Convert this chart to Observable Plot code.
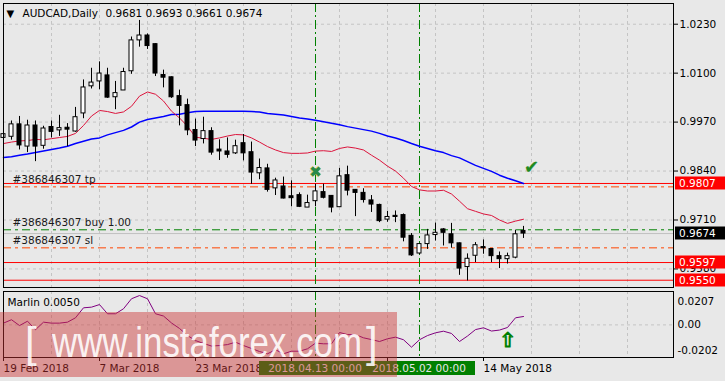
<!DOCTYPE html>
<html><head><meta charset="utf-8">
<script src="https://cdn.jsdelivr.net/npm/d3@7"></script>
<script src="https://cdn.jsdelivr.net/npm/@observablehq/plot@0.6"></script>
<style>
html,body{margin:0;padding:0;background:#e8e8e8;}
#wrap{position:relative;width:725px;height:381px;overflow:hidden;background:#e8e8e8;font-family:"DejaVu Sans",sans-serif;}
#main,#sub{position:absolute;left:0;}
#main{top:0;}
#sub{top:288px;}
#wm{position:absolute;left:0;top:312px;width:397px;height:65px;background:rgba(205,50,50,0.45);}
#wm svg{position:absolute;left:0;top:0;}
</style></head>
<body><div id="wrap"><div id="main"></div><div id="sub"></div><div id="wm"></div></div>
<script>
// ---------- data ----------
const dates = ["2018-02-19","2018-02-20","2018-02-21","2018-02-22","2018-02-23","2018-02-26","2018-02-27","2018-02-28",
"2018-03-01","2018-03-02","2018-03-05","2018-03-06","2018-03-07","2018-03-08","2018-03-09","2018-03-12","2018-03-13","2018-03-14","2018-03-15","2018-03-16","2018-03-19","2018-03-20","2018-03-21","2018-03-22","2018-03-23","2018-03-26","2018-03-27","2018-03-28","2018-03-29","2018-03-30",
"2018-04-02","2018-04-03","2018-04-04","2018-04-05","2018-04-06","2018-04-09","2018-04-10","2018-04-11","2018-04-12","2018-04-13","2018-04-16","2018-04-17","2018-04-18","2018-04-19","2018-04-20","2018-04-23","2018-04-24","2018-04-25","2018-04-26","2018-04-27","2018-04-30",
"2018-05-01","2018-05-02","2018-05-03","2018-05-04","2018-05-07","2018-05-08","2018-05-09","2018-05-10","2018-05-11","2018-05-14","2018-05-15","2018-05-16","2018-05-17","2018-05-18","2018-05-21"];
const open  = [0.9928,0.9931,0.9964,0.9905,0.9961,0.9907,0.9957,0.9948,0.9955,0.9945,0.9993,1.0065,1.0078,1.0094,1.0036,1.0054,1.0105,1.0187,1.0200,1.0177,1.0095,1.0089,1.0039,1.0015,0.9949,0.9925,0.9946,0.9897,0.9892,0.9887,0.9914,0.9890,0.9834,0.9847,0.9794,0.9799,0.9773,0.9776,0.9743,0.9760,0.9784,0.9774,0.9744,0.9829,0.9790,0.9782,0.9762,0.9750,0.9711,0.9721,0.9723,0.9668,0.9621,0.9646,0.9670,0.9685,0.9672,0.9648,0.9585,0.9615,0.9638,0.9633,0.9614,0.9606,0.9610,0.9681];
const high  = [0.9951,0.9973,0.9985,0.9975,0.9973,0.9959,0.9973,0.9988,0.9966,1.0009,1.0082,1.0113,1.0130,1.0113,1.0078,1.0113,1.0196,1.0240,1.0204,1.0178,1.0108,1.0090,1.0055,1.0031,0.9978,0.9983,0.9955,0.9923,0.9928,0.9922,0.9937,0.9917,0.9872,0.9858,0.9821,0.9824,0.9814,0.9782,0.9776,0.9805,0.9805,0.9775,0.9847,0.9853,0.9791,0.9793,0.9775,0.9752,0.9733,0.9734,0.9726,0.9674,0.9648,0.9685,0.9702,0.9687,0.9701,0.9649,0.9620,0.9650,0.9657,0.9634,0.9625,0.9622,0.9683,0.9693];
const low   = [0.9920,0.9922,0.9896,0.9889,0.9865,0.9898,0.9928,0.9932,0.9905,0.9943,0.9979,1.0058,1.0056,1.0033,1.0003,1.0054,1.0097,1.0169,1.0163,1.0091,1.0061,1.0033,0.9960,0.9934,0.9905,0.9912,0.9882,0.9868,0.9874,0.9884,0.9867,0.9805,0.9817,0.9784,0.9775,0.9766,0.9745,0.9743,0.9743,0.9745,0.9766,0.9729,0.9744,0.9774,0.9719,0.9755,0.9730,0.9703,0.9704,0.9703,0.9652,0.9613,0.9618,0.9632,0.9654,0.9641,0.9635,0.9563,0.9548,0.9597,0.9619,0.9597,0.9581,0.9593,0.9607,0.9661];
const close = [0.9938,0.9964,0.9908,0.9961,0.9905,0.9953,0.9944,0.9954,0.9950,0.9983,1.0062,1.0075,1.0099,1.0035,1.0047,1.0103,1.0187,1.0200,1.0172,1.0099,1.0088,1.0036,1.0013,0.9948,0.9921,0.9946,0.9889,0.9892,0.9883,0.9906,0.9887,0.9836,0.9848,0.9790,0.9815,0.9767,0.9768,0.9745,0.9755,0.9786,0.9769,0.9743,0.9826,0.9788,0.9782,0.9763,0.9751,0.9707,0.9718,0.9718,0.9663,0.9616,0.9646,0.9669,0.9676,0.9676,0.9648,0.9581,0.9607,0.9643,0.9635,0.9614,0.9606,0.9614,0.9672,0.9674];
const maRed  = [0.9913,0.9917,0.9920,0.9921,0.9924,0.9923,0.9926,0.9929,0.9932,0.9940,0.9961,0.9986,1.0001,0.9998,0.9993,0.9997,1.0012,1.0039,1.0050,1.0044,1.0026,0.9999,0.9981,0.9959,0.9930,0.9927,0.9924,0.9928,0.9933,0.9937,0.9936,0.9928,0.9917,0.9905,0.9896,0.9889,0.9887,0.9887,0.9888,0.9893,0.9894,0.9892,0.9900,0.9904,0.9901,0.9896,0.9882,0.9869,0.9853,0.9840,0.9821,0.9799,0.9790,0.9787,0.9787,0.9789,0.9779,0.9760,0.9740,0.9733,0.9726,0.9722,0.9710,0.9701,0.9707,0.9712];
const maBlue = [0.9876,0.9878,0.9882,0.9885,0.9889,0.9893,0.9897,0.9901,0.9906,0.9913,0.9919,0.9925,0.9928,0.9936,0.9942,0.9948,0.9957,0.9970,0.9977,0.9981,0.9985,0.9990,0.9991,0.9995,0.9998,0.9999,0.9999,0.9999,0.9999,0.9999,0.9999,0.9998,0.9997,0.9993,0.9991,0.9989,0.9985,0.9981,0.9978,0.9975,0.9971,0.9967,0.9963,0.9958,0.9954,0.9950,0.9946,0.9940,0.9933,0.9928,0.9921,0.9913,0.9906,0.9900,0.9894,0.9889,0.9881,0.9875,0.9865,0.9855,0.9847,0.9839,0.9829,0.9821,0.9814,0.9807];
const marlin = [0.0011,0.0032,-0.0004,0.0023,-0.0030,0.0017,0.0011,0.0011,0.0017,0.0044,0.0106,0.0110,0.0126,0.0069,0.0069,0.0100,0.0162,0.0182,0.0162,0.0069,0.0055,0.0012,-0.0022,-0.0066,-0.0097,-0.0115,-0.0131,-0.0128,-0.0122,-0.0107,-0.0128,-0.0146,-0.0165,-0.0179,-0.0154,-0.0179,-0.0163,-0.0163,-0.0148,-0.0113,-0.0117,-0.0117,-0.0047,-0.0060,-0.0060,-0.0080,-0.0091,-0.0103,-0.0086,-0.0076,-0.0092,-0.0138,-0.0092,-0.0066,-0.0049,-0.0039,-0.0053,-0.0103,-0.0069,-0.0029,-0.0018,-0.0038,-0.0032,-0.0016,0.0044,0.0052];

const priceTicks = [1.0230, 1.0100, 0.9970, 0.9840, 0.9710, 0.9580];
const marlinTicks = [0.0207, 0.00, -0.0202];
const marlinTickLabels = ["0.0207", "0.00", "-0.0202"];
const dateTickDates = ["2018-02-19","2018-03-07","2018-03-23","2018-04-10","2018-04-26","2018-05-14"];
const dateTickLabels = ["19 Feb 2018","7 Mar 2018","23 Mar 2018","10 Apr 2018","26 Apr 2018","14 May 2018"];
const redLevels = [0.9807, 0.9597, 0.9550];
const orderLevels = [0.9798, 0.9684, 0.9636];           // tp, buy, sl
const orderTexts  = ["#386846307 tp", "#386846307 buy 1.00", "#386846307 sl"];
const bidPrice = 0.9674;
const markedDates = ["2018-04-13", "2018-05-02"];
const headerTitle = "AUDCAD,Daily";
const headerValues = "0.9681 0.9693 0.9661 0.9674";
const indicatorName = "Marlin 0.0050";
const closeMark = {date: "2018-04-13", price: 0.9836};
const tpMark = {date: "2018-05-22", price: 0.9849};
const arrowMark = {date: "2018-05-17", value: -0.0097};

// ---------- derived ----------
const idx = d => dates.indexOf(d) >= 0 ? dates.indexOf(d) : dates.length; // position on the trading-day axis
const bars = dates.map((d, i) => ({i, open: open[i], high: high[i], low: low[i], close: close[i]}));
const redLine = maRed.map((v, i) => ({i, v}));
const blueLine = maBlue.map((v, i) => ({i, v}));
const marlinLine = marlin.map((v, i) => ({i, v}));
const gridX = d3.range(0, 84, 6);
const dateTickIdx = dateTickDates.map(idx);
const markIdx = markedDates.map(idx);
const xDomain = [0, 83.75];
const FONT = "DejaVu Sans";
const green = "#008000", orange = "#FF4500", red = "#FF0000";

const main = Plot.plot({
  width: 725, height: 288,
  marginLeft: 3, marginRight: 52, marginTop: 3, marginBottom: 1,
  style: {fontFamily: FONT, fontSize: "10.5px", background: "transparent", color: "#000", overflow: "visible"},
  x: {domain: xDomain, axis: null},
  y: {domain: [0.95307, 1.02850], axis: null},
  marks: [
    Plot.ruleY(priceTicks, {stroke: "#c4c4c4", strokeDasharray: "3,3"}),
    Plot.ruleX(gridX, {stroke: "#c4c4c4", strokeDasharray: "3,3"}),
    Plot.ruleY(redLevels, {stroke: red, strokeWidth: 1}),
    Plot.ruleY([bidPrice], {stroke: "#c0c0c0"}),
    Plot.ruleY([orderLevels[0], orderLevels[2]], {stroke: orange, strokeDasharray: "8,4,3,4"}),
    Plot.ruleY([orderLevels[1]], {stroke: green, strokeDasharray: "8,4,3,4"}),
    Plot.ruleX(markIdx, {stroke: green, strokeDasharray: "9,3,2,3"}),
    Plot.line(blueLine, {x: "i", y: "v", stroke: "#0000FF", strokeWidth: 1.5}),
    Plot.line(redLine, {x: "i", y: "v", stroke: "#DC143C", strokeWidth: 1}),
    Plot.ruleX(bars, {x: "i", y1: "low", y2: "high", stroke: "#000"}),
    Plot.rect(bars, {x1: d => d.i - 0.25, x2: d => d.i + 0.25, y1: "open", y2: "close",
      fill: d => d.close >= d.open ? "#fff" : "#000", stroke: "#000", strokeWidth: 1}),
    Plot.text(orderLevels, {y: d => d, text: (d, i) => orderTexts[i], frameAnchor: "left", dx: 9, dy: -7,
      textAnchor: "start", lineAnchor: "middle", fill: "#1a1a1a", fontSize: 10.5}),
    Plot.text([closeMark], {x: d => idx(d.date), y: "price", text: () => "✖", fill: "#2a8a4a", stroke: "#d8c840", strokeWidth: 0.7, fontSize: 15}),
    Plot.text([tpMark], {x: d => idx(d.date), y: "price", text: () => "✔", fill: "#1f8a1f", stroke: "#7ab07a", strokeWidth: 0.4, fontSize: 18}),
    Plot.text(["▼"], {frameAnchor: "top-left", dx: 3, dy: 10, textAnchor: "start", lineAnchor: "middle", fontSize: 10, fill: "#000"}),
    Plot.text([headerTitle], {frameAnchor: "top-left", dx: 19, dy: 10, textAnchor: "start", lineAnchor: "middle", fill: "#000"}),
    Plot.text([headerValues], {frameAnchor: "top-left", dx: 102, dy: 10, textAnchor: "start", lineAnchor: "middle", fill: "#000"}),
    Plot.axisY(priceTicks, {anchor: "right", tickSize: 4, tickPadding: 2, tickFormat: d => d.toFixed(4), stroke: "#000", fill: "#000", label: null}),
    Plot.frame({stroke: "#000"})
  ]
});
document.getElementById("main").appendChild(main);

// price boxes on the right axis (red lines + current bid)
{
  const ys = main.scale("y");
  const svg = d3.select(main);
  const boxes = redLevels.map(v => ({v, bg: red})).concat([{v: bidPrice, bg: "#000"}]);
  const g = svg.append("g").attr("font-family", FONT).attr("font-size", "10.5px").attr("text-anchor", "start");
  for (const b of boxes) {
    const y = ys.apply(b.v);
    g.append("rect").attr("x", 675).attr("y", Math.round(y) - 6.5).attr("width", 50).attr("height", 13).attr("fill", b.bg);
    g.append("text").attr("x", 679).attr("y", y).attr("dy", "0.36em").attr("text-anchor", "start").attr("fill", "#fff").text(b.v.toFixed(4));
  }
}

const sub = Plot.plot({
  width: 725, height: 93,
  marginLeft: 3, marginRight: 52, marginTop: 3, marginBottom: 24,
  style: {fontFamily: FONT, fontSize: "10.5px", background: "transparent", color: "#000", overflow: "visible"},
  x: {domain: xDomain, axis: null},
  y: {domain: [-0.0202, 0.0207], axis: null},
  marks: [
    Plot.ruleX(gridX, {stroke: "#c4c4c4", strokeDasharray: "3,3"}),
    Plot.ruleY([0], {stroke: "#c4c4c4", strokeDasharray: "3,3"}),
    Plot.ruleX(markIdx, {stroke: green, strokeDasharray: "9,3,2,3"}),
    Plot.line(marlinLine, {x: "i", y: "v", stroke: "#800080", strokeWidth: 1}),
    Plot.text([arrowMark], {x: d => idx(d.date), y: "value", text: () => "⇧", fill: "none", stroke: green, strokeWidth: 1, fontSize: 20}),
    Plot.text([indicatorName], {frameAnchor: "top-left", dx: 4, dy: 11, textAnchor: "start", lineAnchor: "middle", fill: "#000"}),
    Plot.text([marlinTicks[0]], {y: d => d, text: () => marlinTickLabels[0], frameAnchor: "right", dx: 4, dy: 10, textAnchor: "start", lineAnchor: "middle", fill: "#000"}),
    Plot.text([marlinTicks[1]], {y: d => d, text: () => marlinTickLabels[1], frameAnchor: "right", dx: 4, dy: 0, textAnchor: "start", lineAnchor: "middle", fill: "#000"}),
    Plot.text([marlinTicks[2]], {y: d => d, text: () => marlinTickLabels[2], frameAnchor: "right", dx: 4, dy: -7, textAnchor: "start", lineAnchor: "middle", fill: "#000"}),
    Plot.axisX(dateTickIdx, {anchor: "bottom", tickSize: 4, tickPadding: 3, textAnchor: "start", dx: 0,
      tickFormat: d => dateTickLabels[dateTickIdx.indexOf(d)], stroke: "#000", fill: "#000", label: null}),
    Plot.frame({stroke: "#000"})
  ]
});
document.getElementById("sub").appendChild(sub);

// highlighted date boxes of the two marked days
{
  const xs = sub.scale("x");
  const svg = d3.select(sub);
  const g = svg.append("g").attr("font-family", FONT).attr("font-size", "10.5px");
  for (const d of markedDates) {
    const x = xs.apply(idx(d));
    g.append("rect").attr("x", Math.round(x) - 56).attr("y", 73).attr("width", 112).attr("height", 14).attr("fill", green);
    g.append("text").attr("x", x).attr("y", 80).attr("dy", "0.36em").attr("text-anchor", "middle").attr("fill", "#e6e6e6")
      .text(d.replace(/-/g, ".") + " 00:00");
  }
}

// watermark
{
  const svg = d3.select("#wm").append("svg").attr("width", 397).attr("height", 65);
  const t = svg.append("g").attr("fill", "#fff").attr("fill-opacity", 0.9).attr("font-family", "Liberation Sans").attr("font-size", 42).attr("text-anchor", "start");
  t.append("text").attr("x", 25).attr("y", 45).text("[");
  t.append("text").attr("x", 52).attr("y", 45).attr("textLength", 310).attr("lengthAdjust", "spacingAndGlyphs").text("www.instaforex.com");
  t.append("text").attr("x", 366).attr("y", 45).text("]");
}
</script>
</body></html>
